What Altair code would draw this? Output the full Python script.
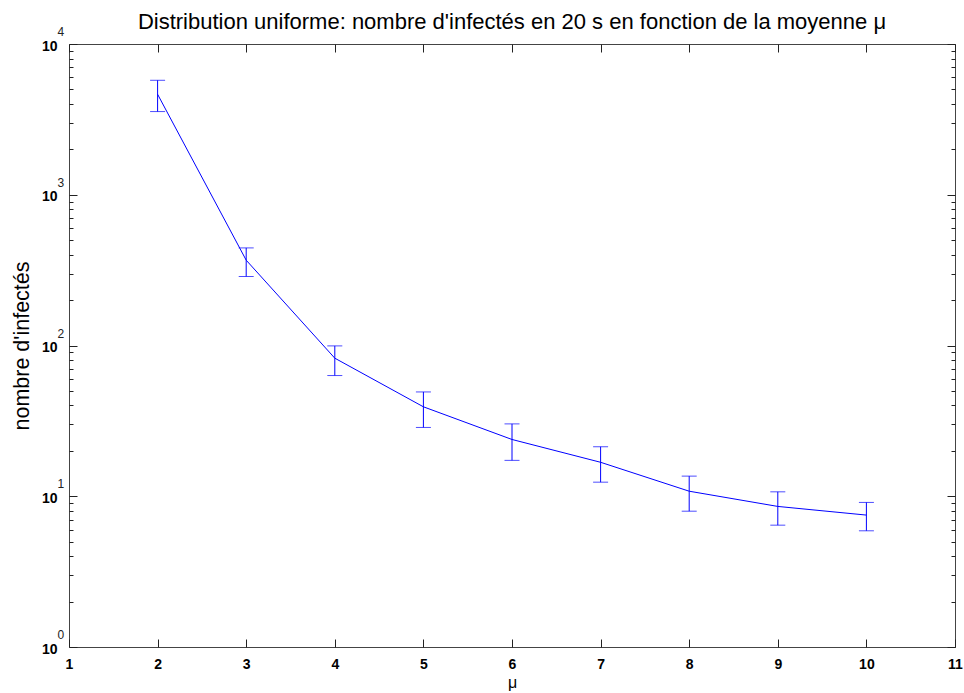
import altair as alt
import pandas as pd

# ---- data ----
mu = [2, 3, 4, 5, 6, 7, 8, 9, 10]
mean_inf = [4640, 368, 82.4, 39.2, 23.8, 16.8, 10.8, 8.56, 7.50]
upper_inf = [5745, 444, 99.4, 49.2, 30.2, 21.3, 13.6, 10.7, 9.1]
lower_inf = [3563, 287, 63.2, 28.6, 17.3, 12.4, 7.96, 6.43, 5.90]

x_ticks = [1, 2, 3, 4, 5, 6, 7, 8, 9, 10, 11]
y_major = [1, 10, 100, 1000, 10000]
y_exponents = ["0", "1", "2", "3", "4"]
y_minor = [m * d for d in [1, 10, 100, 1000] for m in range(2, 10)]

df = pd.DataFrame({"mu": mu, "mean": mean_inf, "upper": upper_inf, "lower": lower_inf})
exp_df = pd.DataFrame({"val": y_major, "exp": y_exponents})

FONT = "Liberation Sans"
BLUE = "#0000ff"
TICK = "#222222"

x_scale = alt.Scale(domain=[1, 11], nice=False, zero=False)
y_scale = alt.Scale(type="log", domain=[1, 10000], nice=False)


def tick_axis(orient, values, size, color=TICK, width=1):
    return alt.Axis(orient=orient, values=values, labels=False, title=None,
                    domain=False, grid=False, ticks=True,
                    tickSize=alt.ExprRef(expr=str(-size)), tickColor=color, tickWidth=width)


x_label_axis = alt.Axis(orient="bottom", values=x_ticks, ticks=False, domain=False, grid=False,
                        labelPadding=21, labelBaseline="alphabetic", labelFlush=False,
                        labelOverlap=False, labelBound=False, format="d",
                        labelFont=FONT, labelFontSize=14, labelFontWeight="bold", labelColor="black",
                        title="μ", titleFont=FONT, titleFontSize=16, titleFontWeight="normal",
                        titleColor="black", titleBaseline="alphabetic", titleY=40)

y_label_axis = alt.Axis(orient="left", values=y_major, ticks=False, domain=False, grid=False,
                        labelExpr="'10'", labelPadding=12, labelBaseline="middle", labelOffset=2,
                        labelFlush=False, labelOverlap=False, labelBound=False,
                        labelFont=FONT, labelFontSize=14, labelFontWeight="bold", labelColor="black",
                        title="nombre d'infectés", titleFont=FONT, titleFontSize=21.5,
                        titleFontWeight="normal", titleColor="black",
                        titleBaseline="alphabetic", titleX=-41)

base = alt.Chart(df)

line = base.mark_line(color=BLUE, strokeWidth=1).encode(
    x=alt.X("mu:Q", scale=x_scale, axis=x_label_axis),
    y=alt.Y("mean:Q", scale=y_scale, axis=y_label_axis),
)

bars = base.mark_rule(color=BLUE, strokeWidth=1).encode(
    x=alt.X("mu:Q", scale=x_scale, axis=tick_axis("bottom", x_ticks, 8)),
    y=alt.Y("lower:Q", scale=y_scale, axis=tick_axis("left", y_major, 8)),
    y2="upper:Q",
)

caps_hi = base.mark_tick(color=BLUE, orient="horizontal", size=15, thickness=1).encode(
    x=alt.X("mu:Q", scale=x_scale, axis=tick_axis("top", x_ticks, 8)),
    y=alt.Y("upper:Q", scale=y_scale, axis=tick_axis("left", y_minor, 4)),
)

caps_lo = base.mark_tick(color=BLUE, orient="horizontal", size=15, thickness=1).encode(
    x=alt.X("mu:Q", scale=x_scale, axis=None),
    y=alt.Y("lower:Q", scale=y_scale, axis=tick_axis("right", y_major, 8)),
)

exps = alt.Chart(exp_df).mark_text(
    align="left", baseline="alphabetic", dx=-11.5, dy=-8,
    font=FONT, fontSize=12, color="#222222",
).encode(
    x=alt.XDatum(1, scale=x_scale, axis=None),
    y=alt.Y("val:Q", scale=y_scale, axis=tick_axis("right", y_minor, 4)),
    text="exp:N",
)

chart = alt.layer(line, bars, caps_hi, caps_lo, exps).resolve_axis(
    x="independent", y="independent"
).properties(
    width=886, height=603, autosize="none",
    padding={"left": 69, "top": 44, "right": 9, "bottom": 46},
    title=alt.TitleParams(
        "Distribution uniforme: nombre d'infectés en 20 s en fonction de la moyenne μ",
        font=FONT, fontSize=22, fontWeight="normal", color="black",
        anchor="middle", baseline="alphabetic", frame="group", offset=-24.5,
    ),
).configure_view(stroke="#444444", strokeWidth=1)

chart.save("out.html", embed_options={"renderer": "svg", "actions": False})
